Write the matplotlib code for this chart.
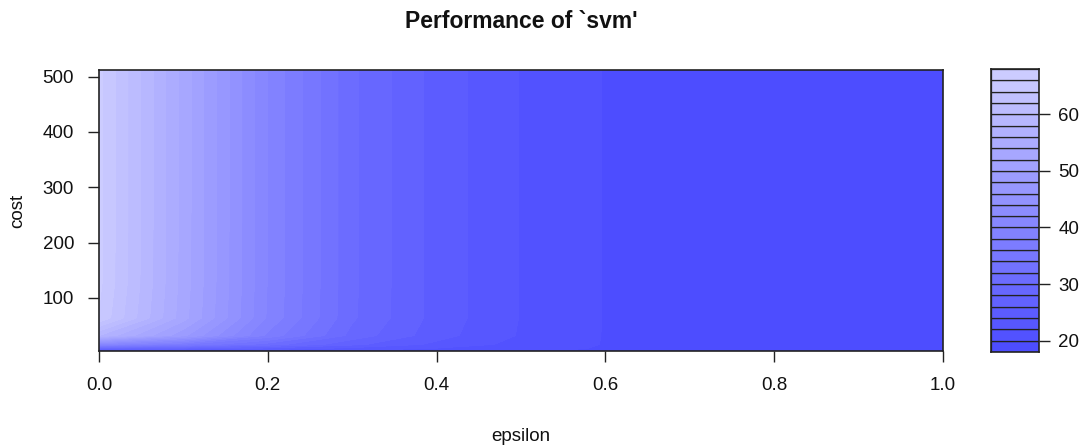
import numpy as np
import matplotlib
matplotlib.use("Agg")
import matplotlib.pyplot as plt
from matplotlib.colors import hsv_to_rgb

plt.rcParams['font.family'] = ['Liberation Sans', 'DejaVu Sans']

# Tuning grid and cross-validated error for each (cost, epsilon) pair
epsilon = [0.0, 0.1, 0.2, 0.3, 0.4, 0.5, 0.6, 0.7, 0.8, 0.9, 1.0]
cost = [4, 8, 16, 32, 64, 128, 256, 512]
perf_cost4 = [22.5, 22.0, 21.3, 20.7, 20.2, 19.8, 19.5, 19.3, 19.2, 19.1, 19.0]
perf_cost8 = [28.0, 26.5, 24.8, 23.0, 21.7, 20.7, 19.8, 19.5, 19.3, 19.2, 19.1]
perf_cost16 = [41.0, 36.0, 31.0, 26.5, 23.5, 21.3, 19.9, 19.6, 19.4, 19.3, 19.2]
perf_cost32 = [58.0, 48.5, 37.5, 29.3, 24.8, 21.8, 19.9, 19.6, 19.4, 19.3, 19.2]
perf_cost64 = [65.8, 52.8, 39.7, 30.3, 25.2, 21.9, 19.9, 19.6, 19.4, 19.3, 19.2]
perf_cost128 = [66.5, 53.1, 39.9, 30.4, 25.2, 21.9, 19.9, 19.6, 19.4, 19.3, 19.2]
perf_cost256 = [66.6, 53.2, 39.9, 30.4, 25.2, 21.9, 19.9, 19.6, 19.4, 19.3, 19.2]
perf_cost512 = [66.6, 53.2, 39.9, 30.4, 25.2, 21.9, 19.9, 19.6, 19.4, 19.3, 19.2]
x_ticks = [0.0, 0.2, 0.4, 0.6, 0.8, 1.0]
y_ticks = [100, 200, 300, 400, 500]
key_ticks = [20, 30, 40, 50, 60]

perf = np.array([perf_cost4, perf_cost8, perf_cost16, perf_cost32,
                 perf_cost64, perf_cost128, perf_cost256, perf_cost512])

levels = np.arange(18, 70, 2)
n = len(levels) - 1
sat = np.linspace(0.7, 0.2, n)
colors = [hsv_to_rgb((2 / 3, s, 1.0)) for s in sat]

W, H = 1088, 448
fig = plt.figure(figsize=(W / 100, H / 100), dpi=100)
fig.patch.set_facecolor('white')

def px_axes(left, top, right, bottom):
    return fig.add_axes([left / W, 1 - bottom / H, (right - left) / W, (bottom - top) / H])

edge = '#222222'
txt = '#111111'
fs = 13.5

# main filled contour
ax = px_axes(99, 70, 943, 351)
E, C = np.meshgrid(epsilon, cost)
ax.contourf(E, C, perf, levels=levels, colors=colors, antialiased=False)
ax.contour(E, C, perf, levels=levels, colors=colors, linewidths=0.6)
ax.set_xlim(0, 1)
ax.set_ylim(cost[0], cost[-1])
ax.set_xticks(x_ticks)
ax.set_xticklabels([f"{v:.1f}" for v in x_ticks])
ax.set_yticks(y_ticks)
ax.set_yticklabels([str(v) for v in y_ticks])
ax.tick_params(direction='out', length=8, width=1, color=edge, labelsize=fs,
               labelcolor=txt)
ax.tick_params(axis='x', pad=11)
ax.tick_params(axis='y', pad=10)
for sp in ax.spines.values():
    sp.set_color(edge)
    sp.set_linewidth(1.2)
ax.set_xlabel('epsilon', fontsize=fs, labelpad=24, color=txt)
ax.set_ylabel('cost', fontsize=fs, labelpad=12, color=txt)

fig.text(521 / W, 1 - 21 / H, "Performance of `svm'", ha='center', va='center',
         fontsize=16.5, fontweight='bold', color=txt)

# key
kax = px_axes(991, 69, 1039, 352)
for i in range(n):
    kax.bar(0.5, levels[i + 1] - levels[i], bottom=levels[i], width=1.0,
            color=colors[i], edgecolor=edge, linewidth=0.9)
kax.set_xlim(0, 1)
kax.set_ylim(levels[0], levels[-1])
kax.set_xticks([])
kax.yaxis.tick_right()
kax.set_yticks(key_ticks)
kax.set_yticklabels([str(v) for v in key_ticks])
kax.tick_params(axis='y', direction='out', length=8, width=1, color=edge,
                labelsize=fs, pad=6, labelcolor=txt)
for sp in kax.spines.values():
    sp.set_color(edge)
    sp.set_linewidth(1.2)

fig.savefig('out.png', dpi=100, facecolor='white')
